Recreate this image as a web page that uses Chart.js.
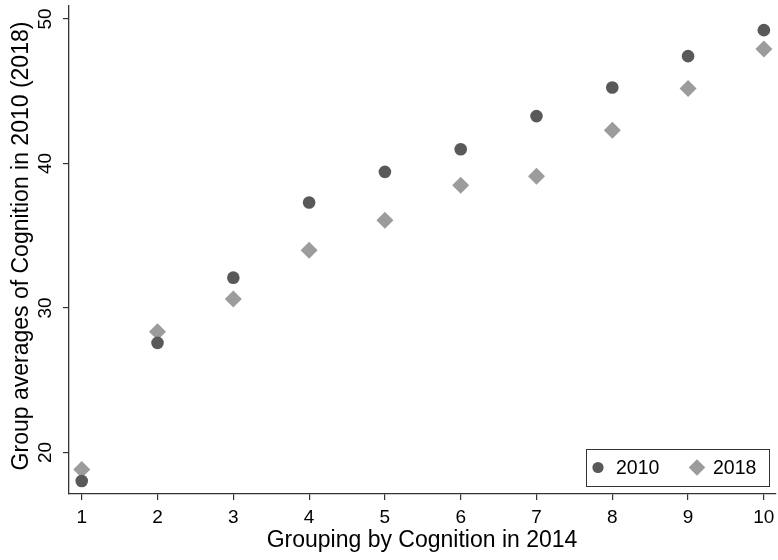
<!DOCTYPE html>
<html>
<head>
<meta charset="utf-8">
<script src="https://cdn.jsdelivr.net/npm/chart.js@4.4.1/dist/chart.umd.min.js"></script>
<style>
  html, body { margin: 0; padding: 0; background: #ffffff; }
  #wrap { width: 778px; height: 560px; position: relative; }
  canvas { display: block; }
</style>
</head>
<body>
<div id="wrap"><canvas id="c" width="778" height="560"></canvas></div>
<script>
// Groups by cognition score in 2014 (deciles)
const groups = [1, 2, 3, 4, 5, 6, 7, 8, 9, 10];
// Group averages of cognition
const avg2010 = [18.03, 27.59, 32.1, 37.3, 39.42, 40.99, 43.28, 45.26, 47.43, 49.23];
const avg2018 = [18.82, 28.35, 30.62, 34.0, 36.07, 38.5, 39.12, 42.3, 45.19, 47.93];
const xTicks = [1, 2, 3, 4, 5, 6, 7, 8, 9, 10];
const yTicks = [20, 30, 40, 50];
const seriesNames = ['2010', '2018'];
const xTitle = 'Grouping by Cognition in 2014';
const yTitle = 'Group averages of Cognition in 2010 (2018)';

const FONT = '"Liberation Sans", Arial, sans-serif';
const DARK = '#595959';
const LIGHT = '#9c9c9c';
const AXIS = '#333333';

// Text decorations: rotated y tick labels, axis titles, legend box
const decorations = {
  id: 'decorations',
  afterDraw(chart) {
    const ctx = chart.ctx;
    const xs = chart.scales.x, ys = chart.scales.y;
    ctx.save();
    ctx.fillStyle = '#000';

    // y tick labels, rotated to read bottom-to-top
    ctx.font = '19px ' + FONT;
    ctx.textAlign = 'center';
    ctx.textBaseline = 'middle';
    yTicks.forEach(v => {
      const py = ys.getPixelForValue(v);
      ctx.save();
      ctx.translate(46, py);
      ctx.rotate(-Math.PI / 2);
      ctx.fillText(String(v), 0, 0);
      ctx.restore();
    });

    // x tick labels
    xTicks.forEach(v => {
      ctx.fillText(String(v), xs.getPixelForValue(v), 518);
    });

    // axis titles
    ctx.font = '23px ' + FONT;
    ctx.fillText(xTitle, 422, 541);
    ctx.save();
    ctx.translate(22, 246);
    ctx.rotate(-Math.PI / 2);
    ctx.fillText(yTitle, 0, 0);
    ctx.restore();

    // legend
    const bx = 586, by = 449, bw = 183, bh = 37;
    ctx.fillStyle = '#ffffff';
    ctx.fillRect(bx, by, bw, bh);
    ctx.strokeStyle = AXIS;
    ctx.lineWidth = 1;
    ctx.strokeRect(bx + 0.5, by + 0.5, bw, bh);
    const ly = by + bh / 2;
    ctx.fillStyle = DARK;
    ctx.beginPath();
    ctx.arc(598, ly, 5.6, 0, Math.PI * 2);
    ctx.fill();
    ctx.fillStyle = LIGHT;
    ctx.beginPath();
    ctx.moveTo(697, ly - 8.3);
    ctx.lineTo(705.3, ly);
    ctx.lineTo(697, ly + 8.3);
    ctx.lineTo(688.7, ly);
    ctx.closePath();
    ctx.fill();
    ctx.fillStyle = '#000';
    ctx.font = '19.5px ' + FONT;
    ctx.textAlign = 'left';
    ctx.fillText(seriesNames[0], 616, ly + 1);
    ctx.fillText(seriesNames[1], 713, ly + 1);
    ctx.restore();
  }
};

new Chart(document.getElementById('c'), {
  type: 'scatter',
  data: {
    datasets: [
      {
        label: seriesNames[0],
        data: groups.map((g, i) => ({ x: g, y: avg2010[i] })),
        pointStyle: 'circle',
        pointRadius: 6.3,
        pointHoverRadius: 6.3,
        backgroundColor: DARK,
        borderColor: DARK,
        borderWidth: 0
      },
      {
        label: seriesNames[1],
        data: groups.map((g, i) => ({ x: g, y: avg2018[i] })),
        pointStyle: 'rectRot',
        pointRadius: 8.5,
        pointHoverRadius: 8.5,
        backgroundColor: LIGHT,
        borderColor: LIGHT,
        borderWidth: 0
      }
    ]
  },
  options: {
    responsive: false,
    animation: false,
    events: [],
    layout: { autoPadding: false, padding: { left: 0, right: 2, top: 6, bottom: 0 } },
    plugins: {
      legend: { display: false },
      tooltip: { enabled: false }
    },
    scales: {
      x: {
        type: 'linear',
        min: 0.832,
        max: 10.16,
        afterBuildTicks(scale) { scale.ticks = xTicks.map(v => ({ value: v })); },
        afterFit(scale) {
          scale.height = 66;
          scale.paddingLeft = 0;
          scale.paddingRight = 0;
        },
        ticks: { callback: () => '', font: { size: 1 }, padding: 0 },
        grid: { display: true, drawOnChartArea: false, drawTicks: true, tickLength: 6, color: AXIS, lineWidth: 1.2 },
        border: { display: true, color: AXIS, width: 1.3 }
      },
      y: {
        type: 'linear',
        min: 17.13,
        max: 50.9,
        afterBuildTicks(scale) { scale.ticks = yTicks.map(v => ({ value: v })); },
        afterFit(scale) {
          scale.width = 69;
          scale.paddingTop = 0;
          scale.paddingBottom = 0;
        },
        ticks: { callback: () => '', font: { size: 1 }, padding: 0 },
        grid: { display: true, drawOnChartArea: false, drawTicks: true, tickLength: 6, color: AXIS, lineWidth: 1.2 },
        border: { display: true, color: AXIS, width: 1.3 }
      }
    }
  },
  plugins: [decorations]
});
</script>
</body>
</html>
